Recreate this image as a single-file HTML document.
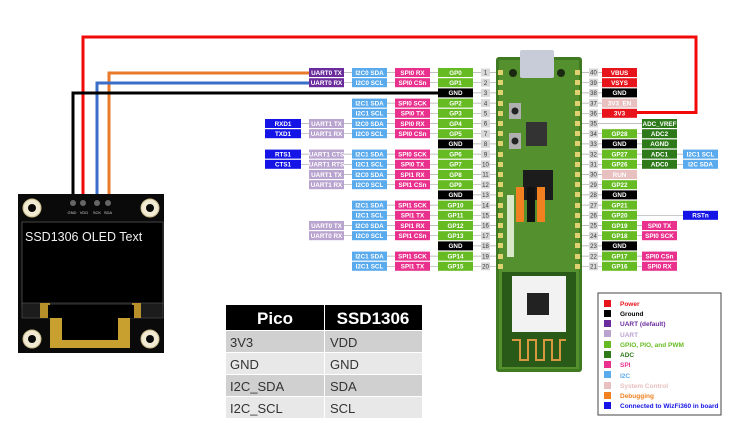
<!DOCTYPE html>
<html><head><meta charset="utf-8"><style>
body{margin:0;background:#fff;}
svg{display:block;font-family:"Liberation Sans",sans-serif;}
.t{font-size:6.3px;font-weight:bold;fill:#fff;text-anchor:middle;}
.n{font-size:6px;fill:#333;text-anchor:middle;}
.pw{fill:#e8141c}.gd{fill:#000}.ud{fill:#6a2c9c}.ul{fill:#b9a3cf}.gp{fill:#66bb22}.ad{fill:#2e7a1a}.sp{fill:#e8308c}.ic{fill:#5aaaee}.sc{fill:#e8c0c0}.wz{fill:#1414e6}
.nb{fill:#d8d8d8}
.ln{stroke:#aaa;stroke-width:0.7}
.lg{font-size:6.5px;font-weight:bold}
</style></head><body>
<svg width="740" height="434" viewBox="0 0 740 434">
<g fill="none" stroke-width="3">
<polyline points="83,202 83,37 696,37 696,112.5 636,112.5" stroke="#f00a0a"/>
<polyline points="109,202 109,73 309,73" stroke="#e87a2a"/>
<polyline points="97,202 97,83 309,83" stroke="#3a6ec8"/>
<polyline points="73,202 73,93 438,93" stroke="#000"/>
</g>
<g class="ln">
<line x1="344" y1="72.5" x2="496" y2="72.5"/><line x1="344" y1="82.7" x2="496" y2="82.7"/>
<line x1="473" y1="92.9" x2="496" y2="92.9"/>
<line x1="352" y1="103.1" x2="496" y2="103.1"/><line x1="352" y1="113.3" x2="496" y2="113.3"/>
<line x1="265" y1="123.5" x2="496" y2="123.5"/><line x1="265" y1="133.7" x2="496" y2="133.7"/>
<line x1="473" y1="143.9" x2="496" y2="143.9"/>
<line x1="265" y1="154.1" x2="496" y2="154.1"/><line x1="265" y1="164.3" x2="496" y2="164.3"/>
<line x1="309" y1="174.5" x2="496" y2="174.5"/><line x1="309" y1="184.7" x2="496" y2="184.7"/>
<line x1="473" y1="194.9" x2="496" y2="194.9"/>
<line x1="352" y1="205.1" x2="496" y2="205.1"/><line x1="352" y1="215.3" x2="496" y2="215.3"/>
<line x1="309" y1="225.5" x2="496" y2="225.5"/><line x1="309" y1="235.7" x2="496" y2="235.7"/>
<line x1="473" y1="245.9" x2="496" y2="245.9"/>
<line x1="352" y1="256.1" x2="496" y2="256.1"/><line x1="352" y1="266.3" x2="496" y2="266.3"/>
<line x1="582" y1="72.5" x2="637" y2="72.5"/><line x1="582" y1="82.7" x2="637" y2="82.7"/>
<line x1="582" y1="92.9" x2="637" y2="92.9"/><line x1="582" y1="103.1" x2="637" y2="103.1"/>
<line x1="582" y1="113.3" x2="637" y2="113.3"/><line x1="582" y1="123.5" x2="642" y2="123.5"/>
<line x1="582" y1="133.7" x2="677" y2="133.7"/><line x1="582" y1="143.9" x2="677" y2="143.9"/>
<line x1="582" y1="154.1" x2="718" y2="154.1"/><line x1="582" y1="164.3" x2="718" y2="164.3"/>
<line x1="582" y1="174.5" x2="637" y2="174.5"/><line x1="582" y1="184.7" x2="637" y2="184.7"/>
<line x1="582" y1="194.9" x2="637" y2="194.9"/><line x1="582" y1="205.1" x2="637" y2="205.1"/>
<line x1="582" y1="215.3" x2="718" y2="215.3"/><line x1="582" y1="225.5" x2="677" y2="225.5"/>
<line x1="582" y1="235.7" x2="677" y2="235.7"/><line x1="582" y1="245.9" x2="637" y2="245.9"/>
<line x1="582" y1="256.1" x2="677" y2="256.1"/><line x1="582" y1="266.3" x2="677" y2="266.3"/>
</g>

<rect x="496" y="57" width="86" height="315" rx="3" fill="#3f7a22"/>
<rect x="499" y="60" width="80" height="309" fill="#54902e"/>
<rect x="520" y="50" width="34" height="28" rx="2" fill="#c8ccd8"/>
<circle cx="513" cy="73" r="4" fill="#1a2a10"/><circle cx="561" cy="73" r="4" fill="#1a2a10"/>
<rect x="509" y="103" width="12" height="16" fill="#b0b0b0"/><circle cx="515" cy="111" r="3.5" fill="#222"/>
<rect x="509" y="133" width="12" height="16" fill="#b0b0b0"/><circle cx="515" cy="141" r="3.5" fill="#222"/>
<rect x="526" y="122" width="21" height="24" fill="#333"/>
<rect x="523" y="170" width="30" height="30" fill="#1c1c1c"/>
<rect x="516" y="187" width="8" height="35" fill="#f08020"/>
<rect x="527" y="187" width="8" height="35" fill="#111"/>
<rect x="537" y="187" width="8" height="35" fill="#f08020"/>
<rect x="507" y="195" width="7" height="62" fill="#d8e8c8"/>
<rect x="502" y="272" width="74" height="95" fill="#2a5a18"/>
<rect x="512" y="276" width="54" height="56" fill="#f2f2f2"/>
<rect x="527" y="293" width="22" height="22" fill="#222"/>
<path d="M512,340 h8 v20 h8 v-20 h8 v20 h8 v-20 h8 v20 h8 v-20 h6" fill="none" stroke="#d89840" stroke-width="2"/>
<g fill="#e0d070">
<rect x="498" y="70" width="5" height="5"/><rect x="498" y="80" width="5" height="5"/><rect x="498" y="90" width="5" height="5"/><rect x="498" y="101" width="5" height="5"/><rect x="498" y="111" width="5" height="5"/><rect x="498" y="121" width="5" height="5"/><rect x="498" y="131" width="5" height="5"/><rect x="498" y="141" width="5" height="5"/><rect x="498" y="152" width="5" height="5"/><rect x="498" y="162" width="5" height="5"/><rect x="498" y="172" width="5" height="5"/><rect x="498" y="182" width="5" height="5"/><rect x="498" y="192" width="5" height="5"/><rect x="498" y="203" width="5" height="5"/><rect x="498" y="213" width="5" height="5"/><rect x="498" y="223" width="5" height="5"/><rect x="498" y="233" width="5" height="5"/><rect x="498" y="243" width="5" height="5"/><rect x="498" y="254" width="5" height="5"/><rect x="498" y="264" width="5" height="5"/>
<rect x="575" y="70" width="5" height="5"/><rect x="575" y="80" width="5" height="5"/><rect x="575" y="90" width="5" height="5"/><rect x="575" y="101" width="5" height="5"/><rect x="575" y="111" width="5" height="5"/><rect x="575" y="121" width="5" height="5"/><rect x="575" y="131" width="5" height="5"/><rect x="575" y="141" width="5" height="5"/><rect x="575" y="152" width="5" height="5"/><rect x="575" y="162" width="5" height="5"/><rect x="575" y="172" width="5" height="5"/><rect x="575" y="182" width="5" height="5"/><rect x="575" y="192" width="5" height="5"/><rect x="575" y="203" width="5" height="5"/><rect x="575" y="213" width="5" height="5"/><rect x="575" y="223" width="5" height="5"/><rect x="575" y="233" width="5" height="5"/><rect x="575" y="243" width="5" height="5"/><rect x="575" y="254" width="5" height="5"/><rect x="575" y="264" width="5" height="5"/>
</g>

<g transform="translate(0,72.5)"><rect class="ud" x="309" y="-4.5" width="35" height="9"/><text class="t" x="326.5" y="2.3">UART0 TX</text><rect class="ic" x="352" y="-4.5" width="35" height="9"/><text class="t" x="369.5" y="2.3">I2C0 SDA</text><rect class="sp" x="395" y="-4.5" width="35" height="9"/><text class="t" x="412.5" y="2.3">SPI0 RX</text><rect class="gp" x="438" y="-4.5" width="35" height="9"/><text class="t" x="455.5" y="2.3">GP0</text><rect class="nb" x="481" y="-4" width="9" height="8"/><text class="n" x="485.5" y="2.2">1</text></g>
<g transform="translate(0,82.7)"><rect class="ud" x="309" y="-4.5" width="35" height="9"/><text class="t" x="326.5" y="2.3">UART0 RX</text><rect class="ic" x="352" y="-4.5" width="35" height="9"/><text class="t" x="369.5" y="2.3">I2C0 SCL</text><rect class="sp" x="395" y="-4.5" width="35" height="9"/><text class="t" x="412.5" y="2.3">SPI0 CSn</text><rect class="gp" x="438" y="-4.5" width="35" height="9"/><text class="t" x="455.5" y="2.3">GP1</text><rect class="nb" x="481" y="-4" width="9" height="8"/><text class="n" x="485.5" y="2.2">2</text></g>
<g transform="translate(0,92.9)"><rect class="gd" x="438" y="-4.5" width="35" height="9"/><text class="t" x="455.5" y="2.3">GND</text><rect class="nb" x="481" y="-4" width="9" height="8"/><text class="n" x="485.5" y="2.2">3</text></g>
<g transform="translate(0,103.1)"><rect class="ic" x="352" y="-4.5" width="35" height="9"/><text class="t" x="369.5" y="2.3">I2C1 SDA</text><rect class="sp" x="395" y="-4.5" width="35" height="9"/><text class="t" x="412.5" y="2.3">SPI0 SCK</text><rect class="gp" x="438" y="-4.5" width="35" height="9"/><text class="t" x="455.5" y="2.3">GP2</text><rect class="nb" x="481" y="-4" width="9" height="8"/><text class="n" x="485.5" y="2.2">4</text></g>
<g transform="translate(0,113.3)"><rect class="ic" x="352" y="-4.5" width="35" height="9"/><text class="t" x="369.5" y="2.3">I2C1 SCL</text><rect class="sp" x="395" y="-4.5" width="35" height="9"/><text class="t" x="412.5" y="2.3">SPI0 TX</text><rect class="gp" x="438" y="-4.5" width="35" height="9"/><text class="t" x="455.5" y="2.3">GP3</text><rect class="nb" x="481" y="-4" width="9" height="8"/><text class="n" x="485.5" y="2.2">5</text></g>
<g transform="translate(0,123.5)"><rect class="wz" x="265" y="-4.5" width="36" height="9"/><text class="t" x="283" y="2.3">RXD1</text><rect class="ul" x="309" y="-4.5" width="35" height="9"/><text class="t" x="326.5" y="2.3">UART1 TX</text><rect class="ic" x="352" y="-4.5" width="35" height="9"/><text class="t" x="369.5" y="2.3">I2C0 SDA</text><rect class="sp" x="395" y="-4.5" width="35" height="9"/><text class="t" x="412.5" y="2.3">SPI0 RX</text><rect class="gp" x="438" y="-4.5" width="35" height="9"/><text class="t" x="455.5" y="2.3">GP4</text><rect class="nb" x="481" y="-4" width="9" height="8"/><text class="n" x="485.5" y="2.2">6</text></g>
<g transform="translate(0,133.7)"><rect class="wz" x="265" y="-4.5" width="36" height="9"/><text class="t" x="283" y="2.3">TXD1</text><rect class="ul" x="309" y="-4.5" width="35" height="9"/><text class="t" x="326.5" y="2.3">UART1 RX</text><rect class="ic" x="352" y="-4.5" width="35" height="9"/><text class="t" x="369.5" y="2.3">I2C0 SCL</text><rect class="sp" x="395" y="-4.5" width="35" height="9"/><text class="t" x="412.5" y="2.3">SPI0 CSn</text><rect class="gp" x="438" y="-4.5" width="35" height="9"/><text class="t" x="455.5" y="2.3">GP5</text><rect class="nb" x="481" y="-4" width="9" height="8"/><text class="n" x="485.5" y="2.2">7</text></g>
<g transform="translate(0,143.9)"><rect class="gd" x="438" y="-4.5" width="35" height="9"/><text class="t" x="455.5" y="2.3">GND</text><rect class="nb" x="481" y="-4" width="9" height="8"/><text class="n" x="485.5" y="2.2">8</text></g>
<g transform="translate(0,154.1)"><rect class="wz" x="265" y="-4.5" width="36" height="9"/><text class="t" x="283" y="2.3">RTS1</text><rect class="ul" x="309" y="-4.5" width="35" height="9"/><text class="t" x="326.5" y="2.3">UART1 CTS</text><rect class="ic" x="352" y="-4.5" width="35" height="9"/><text class="t" x="369.5" y="2.3">I2C1 SDA</text><rect class="sp" x="395" y="-4.5" width="35" height="9"/><text class="t" x="412.5" y="2.3">SPI0 SCK</text><rect class="gp" x="438" y="-4.5" width="35" height="9"/><text class="t" x="455.5" y="2.3">GP6</text><rect class="nb" x="481" y="-4" width="9" height="8"/><text class="n" x="485.5" y="2.2">9</text></g>
<g transform="translate(0,164.3)"><rect class="wz" x="265" y="-4.5" width="36" height="9"/><text class="t" x="283" y="2.3">CTS1</text><rect class="ul" x="309" y="-4.5" width="35" height="9"/><text class="t" x="326.5" y="2.3">UART1 RTS</text><rect class="ic" x="352" y="-4.5" width="35" height="9"/><text class="t" x="369.5" y="2.3">I2C1 SCL</text><rect class="sp" x="395" y="-4.5" width="35" height="9"/><text class="t" x="412.5" y="2.3">SPI0 TX</text><rect class="gp" x="438" y="-4.5" width="35" height="9"/><text class="t" x="455.5" y="2.3">GP7</text><rect class="nb" x="481" y="-4" width="9" height="8"/><text class="n" x="485.5" y="2.2">10</text></g>
<g transform="translate(0,174.5)"><rect class="ul" x="309" y="-4.5" width="35" height="9"/><text class="t" x="326.5" y="2.3">UART1 TX</text><rect class="ic" x="352" y="-4.5" width="35" height="9"/><text class="t" x="369.5" y="2.3">I2C0 SDA</text><rect class="sp" x="395" y="-4.5" width="35" height="9"/><text class="t" x="412.5" y="2.3">SPI1 RX</text><rect class="gp" x="438" y="-4.5" width="35" height="9"/><text class="t" x="455.5" y="2.3">GP8</text><rect class="nb" x="481" y="-4" width="9" height="8"/><text class="n" x="485.5" y="2.2">11</text></g>
<g transform="translate(0,184.7)"><rect class="ul" x="309" y="-4.5" width="35" height="9"/><text class="t" x="326.5" y="2.3">UART1 RX</text><rect class="ic" x="352" y="-4.5" width="35" height="9"/><text class="t" x="369.5" y="2.3">I2C0 SCL</text><rect class="sp" x="395" y="-4.5" width="35" height="9"/><text class="t" x="412.5" y="2.3">SPI1 CSn</text><rect class="gp" x="438" y="-4.5" width="35" height="9"/><text class="t" x="455.5" y="2.3">GP9</text><rect class="nb" x="481" y="-4" width="9" height="8"/><text class="n" x="485.5" y="2.2">12</text></g>
<g transform="translate(0,194.9)"><rect class="gd" x="438" y="-4.5" width="35" height="9"/><text class="t" x="455.5" y="2.3">GND</text><rect class="nb" x="481" y="-4" width="9" height="8"/><text class="n" x="485.5" y="2.2">13</text></g>
<g transform="translate(0,205.1)"><rect class="ic" x="352" y="-4.5" width="35" height="9"/><text class="t" x="369.5" y="2.3">I2C1 SDA</text><rect class="sp" x="395" y="-4.5" width="35" height="9"/><text class="t" x="412.5" y="2.3">SPI1 SCK</text><rect class="gp" x="438" y="-4.5" width="35" height="9"/><text class="t" x="455.5" y="2.3">GP10</text><rect class="nb" x="481" y="-4" width="9" height="8"/><text class="n" x="485.5" y="2.2">14</text></g>
<g transform="translate(0,215.3)"><rect class="ic" x="352" y="-4.5" width="35" height="9"/><text class="t" x="369.5" y="2.3">I2C1 SCL</text><rect class="sp" x="395" y="-4.5" width="35" height="9"/><text class="t" x="412.5" y="2.3">SPI1 TX</text><rect class="gp" x="438" y="-4.5" width="35" height="9"/><text class="t" x="455.5" y="2.3">GP11</text><rect class="nb" x="481" y="-4" width="9" height="8"/><text class="n" x="485.5" y="2.2">15</text></g>
<g transform="translate(0,225.5)"><rect class="ul" x="309" y="-4.5" width="35" height="9"/><text class="t" x="326.5" y="2.3">UART0 TX</text><rect class="ic" x="352" y="-4.5" width="35" height="9"/><text class="t" x="369.5" y="2.3">I2C0 SDA</text><rect class="sp" x="395" y="-4.5" width="35" height="9"/><text class="t" x="412.5" y="2.3">SPI1 RX</text><rect class="gp" x="438" y="-4.5" width="35" height="9"/><text class="t" x="455.5" y="2.3">GP12</text><rect class="nb" x="481" y="-4" width="9" height="8"/><text class="n" x="485.5" y="2.2">16</text></g>
<g transform="translate(0,235.7)"><rect class="ul" x="309" y="-4.5" width="35" height="9"/><text class="t" x="326.5" y="2.3">UART0 RX</text><rect class="ic" x="352" y="-4.5" width="35" height="9"/><text class="t" x="369.5" y="2.3">I2C0 SCL</text><rect class="sp" x="395" y="-4.5" width="35" height="9"/><text class="t" x="412.5" y="2.3">SPI1 CSn</text><rect class="gp" x="438" y="-4.5" width="35" height="9"/><text class="t" x="455.5" y="2.3">GP13</text><rect class="nb" x="481" y="-4" width="9" height="8"/><text class="n" x="485.5" y="2.2">17</text></g>
<g transform="translate(0,245.9)"><rect class="gd" x="438" y="-4.5" width="35" height="9"/><text class="t" x="455.5" y="2.3">GND</text><rect class="nb" x="481" y="-4" width="9" height="8"/><text class="n" x="485.5" y="2.2">18</text></g>
<g transform="translate(0,256.1)"><rect class="ic" x="352" y="-4.5" width="35" height="9"/><text class="t" x="369.5" y="2.3">I2C1 SDA</text><rect class="sp" x="395" y="-4.5" width="35" height="9"/><text class="t" x="412.5" y="2.3">SPI1 SCK</text><rect class="gp" x="438" y="-4.5" width="35" height="9"/><text class="t" x="455.5" y="2.3">GP14</text><rect class="nb" x="481" y="-4" width="9" height="8"/><text class="n" x="485.5" y="2.2">19</text></g>
<g transform="translate(0,266.3)"><rect class="ic" x="352" y="-4.5" width="35" height="9"/><text class="t" x="369.5" y="2.3">I2C1 SCL</text><rect class="sp" x="395" y="-4.5" width="35" height="9"/><text class="t" x="412.5" y="2.3">SPI1 TX</text><rect class="gp" x="438" y="-4.5" width="35" height="9"/><text class="t" x="455.5" y="2.3">GP15</text><rect class="nb" x="481" y="-4" width="9" height="8"/><text class="n" x="485.5" y="2.2">20</text></g>

<g transform="translate(0,72.5)"><rect class="nb" x="589" y="-4" width="9" height="8"/><text class="n" x="593.5" y="2.2">40</text><rect class="pw" x="602" y="-4.5" width="35" height="9"/><text class="t" x="619.5" y="2.3">VBUS</text></g>
<g transform="translate(0,82.7)"><rect class="nb" x="589" y="-4" width="9" height="8"/><text class="n" x="593.5" y="2.2">39</text><rect class="pw" x="602" y="-4.5" width="35" height="9"/><text class="t" x="619.5" y="2.3">VSYS</text></g>
<g transform="translate(0,92.9)"><rect class="nb" x="589" y="-4" width="9" height="8"/><text class="n" x="593.5" y="2.2">38</text><rect class="gd" x="602" y="-4.5" width="35" height="9"/><text class="t" x="619.5" y="2.3">GND</text></g>
<g transform="translate(0,103.1)"><rect class="nb" x="589" y="-4" width="9" height="8"/><text class="n" x="593.5" y="2.2">37</text><rect class="sc" x="602" y="-4.5" width="35" height="9"/><text class="t" x="619.5" y="2.3">3V3_EN</text></g>
<g transform="translate(0,113.3)"><rect class="nb" x="589" y="-4" width="9" height="8"/><text class="n" x="593.5" y="2.2">36</text><rect class="pw" x="602" y="-4.5" width="35" height="9"/><text class="t" x="619.5" y="2.3">3V3</text></g>
<g transform="translate(0,123.5)"><rect class="nb" x="589" y="-4" width="9" height="8"/><text class="n" x="593.5" y="2.2">35</text><rect class="ad" x="642" y="-4.5" width="35" height="9"/><text class="t" x="659.5" y="2.3">ADC_VREF</text></g>
<g transform="translate(0,133.7)"><rect class="nb" x="589" y="-4" width="9" height="8"/><text class="n" x="593.5" y="2.2">34</text><rect class="gp" x="602" y="-4.5" width="35" height="9"/><text class="t" x="619.5" y="2.3">GP28</text><rect class="ad" x="642" y="-4.5" width="35" height="9"/><text class="t" x="659.5" y="2.3">ADC2</text></g>
<g transform="translate(0,143.9)"><rect class="nb" x="589" y="-4" width="9" height="8"/><text class="n" x="593.5" y="2.2">33</text><rect class="gd" x="602" y="-4.5" width="35" height="9"/><text class="t" x="619.5" y="2.3">GND</text><rect class="ad" x="642" y="-4.5" width="35" height="9"/><text class="t" x="659.5" y="2.3">AGND</text></g>
<g transform="translate(0,154.1)"><rect class="nb" x="589" y="-4" width="9" height="8"/><text class="n" x="593.5" y="2.2">32</text><rect class="gp" x="602" y="-4.5" width="35" height="9"/><text class="t" x="619.5" y="2.3">GP27</text><rect class="ad" x="642" y="-4.5" width="35" height="9"/><text class="t" x="659.5" y="2.3">ADC1</text><rect class="ic" x="683" y="-4.5" width="35" height="9"/><text class="t" x="700.5" y="2.3">I2C1 SCL</text></g>
<g transform="translate(0,164.3)"><rect class="nb" x="589" y="-4" width="9" height="8"/><text class="n" x="593.5" y="2.2">31</text><rect class="gp" x="602" y="-4.5" width="35" height="9"/><text class="t" x="619.5" y="2.3">GP26</text><rect class="ad" x="642" y="-4.5" width="35" height="9"/><text class="t" x="659.5" y="2.3">ADC0</text><rect class="ic" x="683" y="-4.5" width="35" height="9"/><text class="t" x="700.5" y="2.3">I2C SDA</text></g>
<g transform="translate(0,174.5)"><rect class="nb" x="589" y="-4" width="9" height="8"/><text class="n" x="593.5" y="2.2">30</text><rect class="sc" x="602" y="-4.5" width="35" height="9"/><text class="t" x="619.5" y="2.3">RUN</text></g>
<g transform="translate(0,184.7)"><rect class="nb" x="589" y="-4" width="9" height="8"/><text class="n" x="593.5" y="2.2">29</text><rect class="gp" x="602" y="-4.5" width="35" height="9"/><text class="t" x="619.5" y="2.3">GP22</text></g>
<g transform="translate(0,194.9)"><rect class="nb" x="589" y="-4" width="9" height="8"/><text class="n" x="593.5" y="2.2">28</text><rect class="gd" x="602" y="-4.5" width="35" height="9"/><text class="t" x="619.5" y="2.3">GND</text></g>
<g transform="translate(0,205.1)"><rect class="nb" x="589" y="-4" width="9" height="8"/><text class="n" x="593.5" y="2.2">27</text><rect class="gp" x="602" y="-4.5" width="35" height="9"/><text class="t" x="619.5" y="2.3">GP21</text></g>
<g transform="translate(0,215.3)"><rect class="nb" x="589" y="-4" width="9" height="8"/><text class="n" x="593.5" y="2.2">26</text><rect class="gp" x="602" y="-4.5" width="35" height="9"/><text class="t" x="619.5" y="2.3">GP20</text><rect class="wz" x="683" y="-4.5" width="35" height="9"/><text class="t" x="700.5" y="2.3">RSTn</text></g>
<g transform="translate(0,225.5)"><rect class="nb" x="589" y="-4" width="9" height="8"/><text class="n" x="593.5" y="2.2">25</text><rect class="gp" x="602" y="-4.5" width="35" height="9"/><text class="t" x="619.5" y="2.3">GP19</text><rect class="sp" x="642" y="-4.5" width="35" height="9"/><text class="t" x="659.5" y="2.3">SPI0 TX</text></g>
<g transform="translate(0,235.7)"><rect class="nb" x="589" y="-4" width="9" height="8"/><text class="n" x="593.5" y="2.2">24</text><rect class="gp" x="602" y="-4.5" width="35" height="9"/><text class="t" x="619.5" y="2.3">GP18</text><rect class="sp" x="642" y="-4.5" width="35" height="9"/><text class="t" x="659.5" y="2.3">SPI0 SCK</text></g>
<g transform="translate(0,245.9)"><rect class="nb" x="589" y="-4" width="9" height="8"/><text class="n" x="593.5" y="2.2">23</text><rect class="gd" x="602" y="-4.5" width="35" height="9"/><text class="t" x="619.5" y="2.3">GND</text></g>
<g transform="translate(0,256.1)"><rect class="nb" x="589" y="-4" width="9" height="8"/><text class="n" x="593.5" y="2.2">22</text><rect class="gp" x="602" y="-4.5" width="35" height="9"/><text class="t" x="619.5" y="2.3">GP17</text><rect class="sp" x="642" y="-4.5" width="35" height="9"/><text class="t" x="659.5" y="2.3">SPI0 CSn</text></g>
<g transform="translate(0,266.3)"><rect class="nb" x="589" y="-4" width="9" height="8"/><text class="n" x="593.5" y="2.2">21</text><rect class="gp" x="602" y="-4.5" width="35" height="9"/><text class="t" x="619.5" y="2.3">GP16</text><rect class="sp" x="642" y="-4.5" width="35" height="9"/><text class="t" x="659.5" y="2.3">SPI0 RX</text></g>

<!-- OLED -->
<rect x="18" y="194" width="146" height="159" fill="#0a0a0a"/>
<g fill="#f2ead2" stroke="#c8b888" stroke-width="1">
<circle cx="32" cy="208" r="9"/><circle cx="150" cy="208" r="9"/><circle cx="32" cy="339" r="9"/><circle cx="150" cy="339" r="9"/>
</g>
<g fill="#0a0a0a"><circle cx="32" cy="208" r="4"/><circle cx="150" cy="208" r="4"/><circle cx="32" cy="339" r="4"/><circle cx="150" cy="339" r="4"/></g>
<rect x="22" y="222" width="141" height="84" fill="#000" stroke="#555" stroke-width="0.8"/>
<text x="25" y="241" font-size="12.5" fill="#f0f0f0">SSD1306 OLED Text</text>
<rect x="22" y="303" width="141" height="15" fill="#1c1c1c" stroke="#555" stroke-width="0.6"/>
<rect x="40" y="303" width="10" height="15" fill="#b8902a"/>
<rect x="132" y="303" width="9" height="15" fill="#b8902a"/>
<rect x="48" y="305" width="86" height="13" fill="#000"/>
<rect x="50" y="318" width="80" height="30" fill="#c8a030"/>
<rect x="62" y="318" width="56" height="22" fill="#000"/>
<g fill="#666"><circle cx="73" cy="203" r="3"/><circle cx="83" cy="203" r="3"/><circle cx="97" cy="203" r="3"/><circle cx="108" cy="203" r="3"/></g>
<g font-size="4" fill="#ccc" text-anchor="middle"><text x="72" y="214">GND</text><text x="84" y="214">VDD</text><text x="97" y="214">SCK</text><text x="108" y="214">SDA</text></g>

<!-- Table -->
<rect x="226" y="305" width="98" height="25" fill="#000"/><rect x="325" y="305" width="97" height="25" fill="#000"/>
<text x="275" y="324" font-size="17" font-weight="bold" fill="#fff" text-anchor="middle">Pico</text>
<text x="373" y="324" font-size="17" font-weight="bold" fill="#fff" text-anchor="middle">SSD1306</text>
<rect x="226" y="331" width="98" height="21" fill="#d0d0d0"/><rect x="325" y="331" width="97" height="21" fill="#d0d0d0"/>
<rect x="226" y="353" width="98" height="21" fill="#e8e8e8"/><rect x="325" y="353" width="97" height="21" fill="#e8e8e8"/>
<rect x="226" y="375" width="98" height="21" fill="#d0d0d0"/><rect x="325" y="375" width="97" height="21" fill="#d0d0d0"/>
<rect x="226" y="397" width="98" height="21" fill="#e8e8e8"/><rect x="325" y="397" width="97" height="21" fill="#e8e8e8"/>
<g font-size="13" fill="#333">
<text x="230" y="347">3V3</text><text x="330" y="347">VDD</text>
<text x="230" y="369">GND</text><text x="330" y="369">GND</text>
<text x="230" y="391">I2C_SDA</text><text x="330" y="391">SDA</text>
<text x="230" y="413">I2C_SCL</text><text x="330" y="413">SCL</text>
</g>

<!-- Legend -->
<rect x="598" y="293" width="123" height="122" fill="#fff" stroke="#444" stroke-width="1"/>
<g>
<rect x="604" y="300" width="7" height="7" class="pw"/><text class="lg" x="620" y="306" fill="#e8141c">Power</text>
<rect x="604" y="310" width="7" height="7" class="gd"/><text class="lg" x="620" y="316" fill="#000">Ground</text>
<rect x="604" y="320" width="7" height="7" class="ud"/><text class="lg" x="620" y="326" fill="#6a2c9c">UART  (default)</text>
<rect x="604" y="330" width="7" height="7" class="ul"/><text class="lg" x="620" y="337" fill="#b9a3cf">UART</text>
<rect x="604" y="341" width="7" height="7" class="gp"/><text class="lg" x="620" y="347" fill="#66bb22">GPIO, PIO, and PWM</text>
<rect x="604" y="351" width="7" height="7" class="ad"/><text class="lg" x="620" y="357" fill="#2e7a1a">ADC</text>
<rect x="604" y="361" width="7" height="7" class="sp"/><text class="lg" x="620" y="367" fill="#e8308c">SPI</text>
<rect x="604" y="371" width="7" height="7" class="ic"/><text class="lg" x="620" y="378" fill="#5aaaee">I2C</text>
<rect x="604" y="382" width="7" height="7" class="sc"/><text class="lg" x="620" y="388" fill="#e8c0c0">System Control</text>
<rect x="604" y="392" width="7" height="7" fill="#f08020"/><text class="lg" x="620" y="398" fill="#f08020">Debugging</text>
<rect x="604" y="402" width="7" height="7" class="wz"/><text class="lg" x="620" y="408" fill="#1414e6">Connected to WizFi360 in board</text>
</g>
</svg>
</body></html>
